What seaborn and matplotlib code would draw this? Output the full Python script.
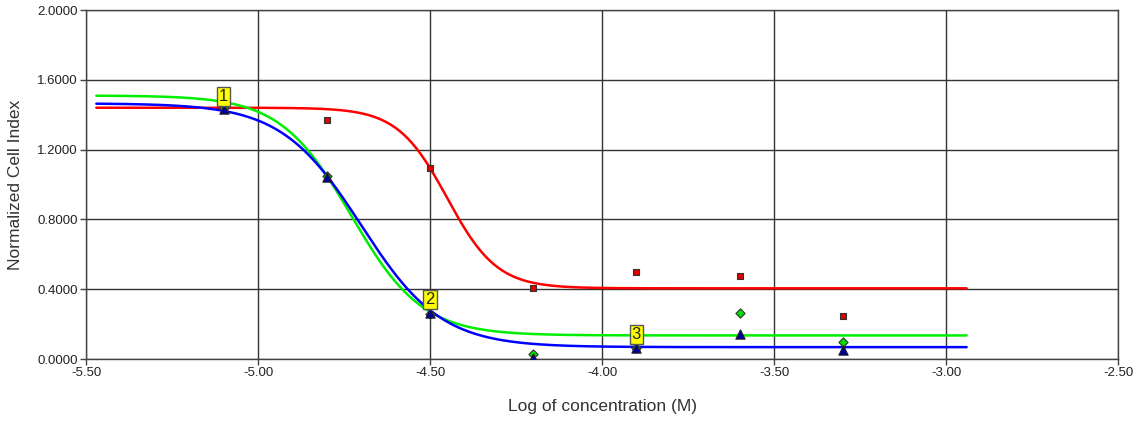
import numpy as np
import pandas as pd
import matplotlib
matplotlib.use("Agg")
import matplotlib.pyplot as plt
import seaborn as sns

# measured points (log concentration vs normalized cell index)
log_conc = [-5.1, -4.8, -4.5, -4.2, -3.9, -3.6, -3.3]
red_vals = [1.44, 1.37, 1.095, 0.407, 0.499, 0.476, 0.246]
green_vals = [1.44, 1.05, 0.26, 0.03, 0.065, 0.264, 0.097]
blue_vals = [1.43, 1.045, 0.264, 0.005, 0.063, 0.143, 0.052]

# fitted dose-response parameters: top, bottom, logEC50, hill slope
red_fit = [1.44, 0.405, -4.45, 6.0]
green_fit = [1.51, 0.135, -4.729, 4.2]
blue_fit = [1.465, 0.068, -4.70, 3.74]
fit_range = [-5.47, -2.94]

# point labels
label_text = ["1", "2", "3"]
label_x = [-5.1, -4.5, -3.9]
label_y = [1.43, 0.264, 0.063]

x_ticks = [-5.5, -5.0, -4.5, -4.0, -3.5, -3.0, -2.5]
y_ticks = [0.0, 0.4, 0.8, 1.2, 1.6, 2.0]


def logistic(x, p):
    top, bottom, ec50, hill = p
    return bottom + (top - bottom) / (1 + 10 ** ((x - ec50) * hill))


sns.set_style("white")
plt.rcParams['font.family'] = ['Liberation Sans', 'DejaVu Sans']

fig = plt.figure(figsize=(11.41, 4.21), dpi=100)
ax = fig.add_axes([86 / 1141, 62 / 421, 1032 / 1141, 349 / 421])

xs = np.linspace(fit_range[0], fit_range[1], 400)
curves = pd.DataFrame({
    'x': np.concatenate([xs, xs, xs]),
    'y': np.concatenate([logistic(xs, red_fit), logistic(xs, green_fit), logistic(xs, blue_fit)]),
    'series': ['red'] * len(xs) + ['green'] * len(xs) + ['blue'] * len(xs),
})
palette = {'red': '#ff0000', 'green': '#00ee00', 'blue': '#0000ff'}
sns.lineplot(data=curves, x='x', y='y', hue='series', palette=palette,
             linewidth=1.8, legend=False, ax=ax, zorder=3)

sns.scatterplot(x=log_conc, y=red_vals, marker='s', s=22, color='#e00000',
                edgecolor='#333333', linewidth=0.8, ax=ax, zorder=4)
sns.scatterplot(x=log_conc, y=green_vals, marker='D', s=22, color='#00dd00',
                edgecolor='#333333', linewidth=0.8, ax=ax, zorder=5)
sns.scatterplot(x=log_conc, y=blue_vals, marker='^', s=45, color='#000099',
                edgecolor='#222222', linewidth=0.8, ax=ax, zorder=6)

for t, lx, ly in zip(label_text, label_x, label_y):
    ax.annotate(t, (lx, ly), xytext=(0, 4), textcoords='offset points',
                ha='center', va='bottom', fontsize=12, color='#222222', zorder=7,
                bbox=dict(boxstyle='square,pad=0.12', fc='#ffff00', ec='#555555', lw=1))

ax.set_xlim(-5.5, -2.5)
ax.set_ylim(0, 2.0)
ax.set_xticks(x_ticks)
ax.set_yticks(y_ticks)
ax.set_xticklabels([f"{v:.2f}" for v in x_ticks], fontsize=9.5, color='#222222')
ax.set_yticklabels([f"{v:.4f}" for v in y_ticks], fontsize=9.5, color='#222222')
ax.grid(True, color='#333333', linewidth=1.0)
ax.set_axisbelow(True)
for sp in ax.spines.values():
    sp.set_color('#444444')
    sp.set_linewidth(1.0)
ax.tick_params(axis='both', direction='out', length=4, width=1, color='#444444', pad=2,
               left=True, bottom=True)
ax.set_xlabel("Log of concentration (M)", fontsize=12.5, color='#333333', labelpad=14)
ax.set_ylabel("Normalized Cell Index", fontsize=12.5, color='#333333', labelpad=10)

fig.savefig("out.png", dpi=100)
